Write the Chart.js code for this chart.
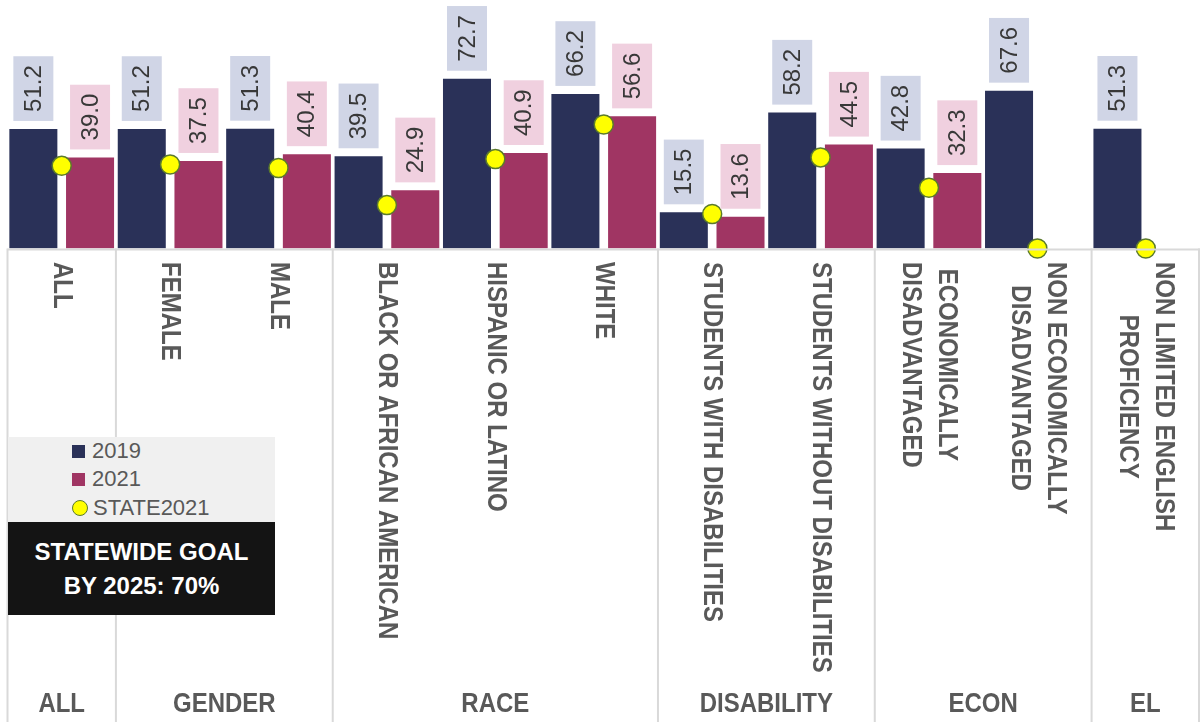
<!DOCTYPE html>
<html lang="en">
<head>
  <meta charset="UTF-8">
  <title>Results by student group</title>
  <script src="https://cdn.jsdelivr.net/npm/chart.js"></script>
  <style>
    body {
      margin: 0;
      background: #ffffff;
      font-family: 'Liberation Sans', Arial, sans-serif;
    }
    .wrap {
      position: relative;
      width: 1201px;
      height: 722px;
    }
    .legend-box {
      position: absolute;
      left: 8px;
      top: 437px;
      width: 267px;
      height: 85px;
      background: #f0f0f0;
    }
    .legend-item {
      position: absolute;
      left: 64px;
      height: 28px;
      line-height: 28px;
      font-size: 22px;
      color: #595959;
    }
    .swatch {
      display: inline-block;
      width: 13px;
      height: 13px;
      margin-right: 7px;
      vertical-align: 0px;
    }
    .dot {
      display: inline-block;
      width: 14px;
      height: 14px;
      border-radius: 50%;
      background: #ffff00;
      border: 1.5px solid #5b7a2c;
      margin-right: 5px;
      vertical-align: -1px;
    }
    .goal-box {
      position: absolute;
      left: 8px;
      top: 522px;
      width: 267px;
      height: 93px;
      background: #141414;
      color: #ffffff;
      font-weight: bold;
      font-size: 24px;
      line-height: 34px;
      text-align: center;
      padding-top: 13px;
      box-sizing: border-box;
    }
  </style>
</head>
<body>
  <div class="wrap">
    <canvas id="chart" width="1201" height="722"></canvas>
    <div class="legend-box">
      <div class="legend-item" style="top:0px"><span class="swatch" style="background:#2a3158"></span>2019</div>
      <div class="legend-item" style="top:28px"><span class="swatch" style="background:#a03563"></span>2021</div>
      <div class="legend-item" style="top:57px"><span class="dot"></span>STATE2021</div>
    </div>
    <div class="goal-box">STATEWIDE GOAL<br>BY 2025: 70%</div>
  </div>

  <script>
    // category labels (one entry per line) and their groups
    const categories = [
      ['ALL'],
      ['FEMALE'],
      ['MALE'],
      ['BLACK OR AFRICAN AMERICAN'],
      ['HISPANIC OR LATINO'],
      ['WHITE'],
      ['STUDENTS WITH DISABILITIES'],
      ['STUDENTS WITHOUT DISABILITIES'],
      ['ECONOMICALLY', 'DISADVANTAGED'],
      ['NON ECONOMICALLY', 'DISADVANTAGED'],
      ['NON LIMITED ENGLISH', 'PROFICIENCY']
    ];
    const groupNames = ['ALL', 'GENDER', 'RACE', 'DISABILITY', 'ECON', 'EL'];
    const groupSizes = [1, 2, 3, 2, 2, 1];

    const values2019 = [51.2, 51.2, 51.3, 39.5, 72.7, 66.2, 15.5, 58.2, 42.8, 67.6, 51.3];
    const values2021 = [39.0, 37.5, 40.4, 24.9, 40.9, 56.6, 13.6, 44.5, 32.3, null, null];
    const state2021 = [35.4, 36.0, 34.5, 18.6, 38.3, 53.1, 14.8, 39.0, 26.0, 0, 0];

    const navy = '#2a3158';
    const maroon = '#a03563';
    const gridGray = '#d9d9d9';
    const labelGray = '#595959';

    // value boxes above the bars
    const valueBoxes = {
      id: 'valueBoxes',
      afterDatasetsDraw(chart) {
        const ctx = chart.ctx;
        const fills = ['#d0d5e6', '#f0d0df'];
        [0, 1].forEach(di => {
          const meta = chart.getDatasetMeta(di);
          const data = chart.data.datasets[di].data;
          meta.data.forEach((bar, i) => {
            const v = data[i];
            if (v === null || v === undefined) return;
            const text = v.toFixed(1);
            ctx.save();
            ctx.font = '24px "Liberation Sans", Arial, sans-serif';
            const w = ctx.measureText(text).width;
            const boxH = w + 18;
            const boxW = 40;
            const bottom = bar.y - 8;
            ctx.fillStyle = fills[di];
            ctx.fillRect(bar.x - boxW / 2, bottom - boxH, boxW, boxH);
            ctx.translate(bar.x + 1, bottom - boxH / 2);
            ctx.rotate(-Math.PI / 2);
            ctx.fillStyle = '#383838';
            ctx.textAlign = 'center';
            ctx.textBaseline = 'middle';
            ctx.fillText(text, 0, 0);
            ctx.restore();
          });
        });
      }
    };

    // two-level category axis drawn under the plot
    const groupAxis = {
      id: 'groupAxis',
      afterDraw(chart) {
        const ctx = chart.ctx;
        const xs = chart.scales.x;
        const area = chart.chartArea;
        const catW = (area.right - area.left) / categories.length;
        const h = chart.height;

        ctx.save();
        ctx.strokeStyle = gridGray;
        ctx.lineWidth = 2;
        ctx.beginPath();
        ctx.moveTo(area.left, area.bottom + 1);
        ctx.lineTo(area.right, area.bottom + 1);
        ctx.stroke();

        // group separators and group names
        let start = 0;
        const edges = [];
        groupSizes.forEach(n => {
          edges.push(xs.getPixelForValue(start) - catW / 2);
          start += n;
        });
        edges.push(area.right - 1);
        ctx.beginPath();
        edges.forEach(x => {
          ctx.moveTo(x, area.bottom);
          ctx.lineTo(x, h);
        });
        ctx.stroke();

        // letters a little taller than the font, like the original face
        const stretch = 1.17;
        ctx.fillStyle = labelGray;
        ctx.font = 'bold 24px "Liberation Sans", Arial, sans-serif';
        ctx.textAlign = 'center';
        ctx.textBaseline = 'middle';
        groupNames.forEach((g, i) => {
          ctx.save();
          ctx.translate((edges[i] + edges[i + 1]) / 2, 704);
          ctx.scale(1, stretch);
          ctx.fillText(g, 0, 0);
          ctx.restore();
        });

        // category names, rotated to read downwards
        const lineGap = 36;
        categories.forEach((lines, i) => {
          const cx = xs.getPixelForValue(i);
          const maxW = Math.max(...lines.map(l => ctx.measureText(l).width));
          lines.forEach((line, j) => {
            const lx = cx + ((lines.length - 1) / 2 - j) * lineGap;
            ctx.save();
            ctx.translate(lx, 262 + maxW / 2);
            ctx.rotate(Math.PI / 2);
            ctx.scale(1, stretch);
            ctx.fillText(line, 0, 0);
            ctx.restore();
          });
        });
        ctx.restore();
      }
    };

    new Chart(document.getElementById('chart').getContext('2d'), {
      type: 'bar',
      data: {
        labels: categories.map(c => c.join(' ')),
        datasets: [
          {
            label: '2019',
            data: values2019,
            backgroundColor: navy,
            order: 1,
            categoryPercentage: 1.046,
            barPercentage: 0.847
          },
          {
            label: '2021',
            data: values2021,
            backgroundColor: maroon,
            order: 1,
            categoryPercentage: 1.046,
            barPercentage: 0.847
          },
          {
            type: 'line',
            label: 'STATE2021',
            data: state2021,
            showLine: false,
            pointRadius: 9.5,
            pointBackgroundColor: '#ffff00',
            pointBorderColor: '#5b7a2c',
            pointBorderWidth: 1.5,
            order: 0,
            clip: false
          }
        ]
      },
      options: {
        responsive: false,
        animation: false,
        layout: {
          autoPadding: false,
          padding: { left: 7.5, right: 1, top: 15, bottom: 473.5 }
        },
        plugins: {
          legend: { display: false },
          tooltip: { enabled: false }
        },
        scales: {
          x: { display: false, offset: true },
          y: { display: false, min: 0, max: 100 }
        }
      },
      plugins: [valueBoxes, groupAxis]
    });
  </script>
</body>
</html>
